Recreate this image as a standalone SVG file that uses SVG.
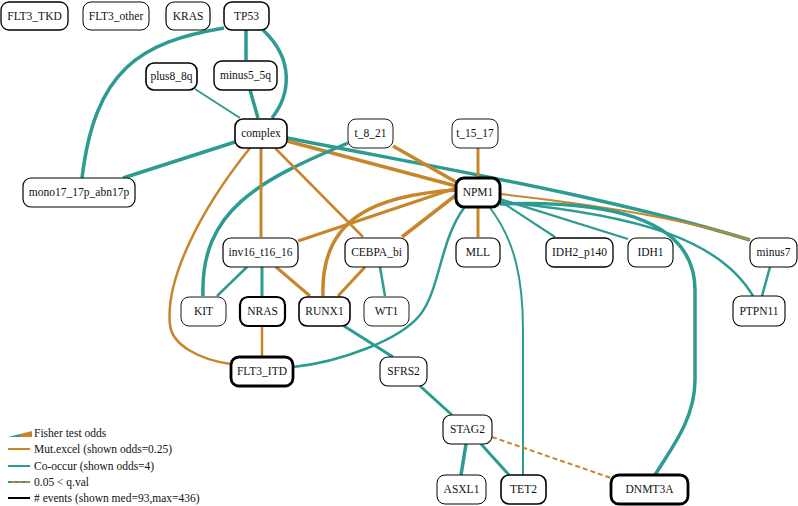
<svg xmlns="http://www.w3.org/2000/svg" width="798" height="506" viewBox="0 0 798 506" font-family="'Liberation Serif', 'DejaVu Serif', serif">
<style>
.n rect{fill:#fff;stroke:#000}
.n text{font-family:'Liberation Serif','DejaVu Serif',serif;font-size:11.5px;fill:#111;text-anchor:middle}
.t{fill:none;stroke:#2c9c92;stroke-linecap:butt}
.o{fill:none;stroke:#c8862c;stroke-linecap:butt}
.lg{font-family:'Liberation Serif','DejaVu Serif',serif;font-size:11.5px;fill:#111}
</style>
<defs>
<linearGradient id="wg" x1="0" x2="1" y1="0" y2="0">
<stop offset="0" stop-color="#2c9c92"/><stop offset="0.45" stop-color="#2c9c92"/><stop offset="0.55" stop-color="#c8862c"/><stop offset="1" stop-color="#c8862c"/>
</linearGradient>
</defs>
<rect width="798" height="506" fill="#fff"/>
<g id="connectors">
<path class="t" stroke-width="3.5" d="M224,28 C140,42 95,70 82,178"/>
<path class="t" stroke-width="3.5" d="M246,30 L246,60"/>
<path class="t" stroke-width="3.5" d="M263,30 C295,60 290,95 272,118"/>
<path class="t" stroke-width="2" d="M195,89 L240,118"/>
<path class="t" stroke-width="3.5" d="M250,90 L258,118"/>
<path class="t" stroke-width="3.5" d="M235,142 L123,178"/>
<path class="t" stroke-width="3.5" d="M287,138 C450,170 600,195 750,240"/>
<path class="o" stroke-width="2" d="M500,194 C600,205 690,220 750,240"/>
<path class="t" stroke-width="2.2" d="M500,201 L555,237"/>
<path class="t" stroke-width="2.2" d="M500,199 L628,239"/>
<path class="t" stroke-width="3.5" d="M500,204 C600,200 695,215 695,290 L695,380 C695,420 670,450 655,475"/>
<path class="t" stroke-width="2.5" d="M500,202 C640,215 720,240 753,296"/>
<path class="o" stroke-width="3" d="M478,208 L478,237"/>
<path class="o" stroke-width="3" d="M478,148 L478,177"/>
<path class="o" stroke-width="3.5" d="M393,146 L456,182"/>
<path class="o" stroke-width="3.5" d="M287,141 L456,186"/>
<path class="t" stroke-width="3.5" d="M348,143 C260,180 200,210 203,296"/>
<path class="o" stroke-width="3" d="M261,148 L261,237"/>
<path class="o" stroke-width="2.5" d="M250,148 C200,210 165,280 170,325 C172,345 200,360 231,364"/>
<path class="o" stroke-width="2.5" d="M275,148 L363,237"/>
<path class="o" stroke-width="3" d="M456,188 L298,241"/>
<path class="o" stroke-width="3.5" d="M456,195 L402,237"/>
<path class="o" stroke-width="3.5" d="M456,190 C380,195 320,215 323,296"/>
<path class="t" stroke-width="2.5" d="M247,267 L217,296"/>
<path class="t" stroke-width="3" d="M262,267 L262,296"/>
<path class="o" stroke-width="3" d="M276,267 L310,296"/>
<path class="o" stroke-width="3" d="M365,267 L338,296"/>
<path class="t" stroke-width="2.5" d="M380,267 L385,296"/>
<path class="o" stroke-width="2.5" d="M262,326 L262,356"/>
<path class="t" stroke-width="2.5" d="M464,208 C440,240 440,290 420,315 C400,340 340,362 293,367"/>
<path class="t" stroke-width="2" d="M490,208 C515,240 523,280 523,330 L523,475"/>
<path class="t" stroke-width="3" d="M344,326 L393,357"/>
<path class="t" stroke-width="3" d="M420,386 L452,415"/>
<path class="t" stroke-width="3.5" d="M466,444 L461,475"/>
<path class="t" stroke-width="3" d="M481,444 L509,475"/>
<path class="o" stroke-width="2" stroke-dasharray="5,3" d="M492,437 L614,479"/>
<path class="t" stroke-width="2.5" d="M770,267 L762,296"/>
</g>
<g id="FLT3_TKD" class="n"><rect x="1" y="2" width="67" height="28" rx="8" stroke-width="1.3"/><text x="34.5" y="20">FLT3_TKD</text></g>
<g id="FLT3_other" class="n"><rect x="83" y="2" width="66" height="28" rx="8" stroke-width="1"/><text x="116" y="20">FLT3_other</text></g>
<g id="KRAS" class="n"><rect x="166" y="2" width="44" height="28" rx="8" stroke-width="1.2"/><text x="188" y="20">KRAS</text></g>
<g id="TP53" class="n"><rect x="224" y="2" width="45" height="28" rx="8" stroke-width="1.5"/><text x="246.5" y="20">TP53</text></g>
<g id="plus8_8q" class="n"><rect x="146" y="63" width="51" height="27" rx="8" stroke-width="1.6"/><text x="171.5" y="80">plus8_8q</text></g>
<g id="minus5_5q" class="n"><rect x="214" y="61" width="63" height="29" rx="8" stroke-width="1.4"/><text x="245.5" y="79">minus5_5q</text></g>
<g id="complex" class="n"><rect x="235" y="119" width="52" height="29" rx="8" stroke-width="1.6"/><text x="261" y="137">complex</text></g>
<g id="t_8_21" class="n"><rect x="348" y="119" width="45" height="29" rx="8" stroke-width="0.9"/><text x="370.5" y="137">t_8_21</text></g>
<g id="t_15_17" class="n"><rect x="452" y="119" width="46" height="29" rx="8" stroke-width="0.9"/><text x="475" y="137">t_15_17</text></g>
<g id="mono17_17p_abn17p" class="n"><rect x="23" y="178" width="112" height="29" rx="8" stroke-width="1.2"/><text x="79" y="196">mono17_17p_abn17p</text></g>
<g id="NPM1" class="n"><rect x="456" y="178" width="44" height="29" rx="8" stroke-width="3"/><text x="478" y="196">NPM1</text></g>
<g id="inv16_t16_16" class="n"><rect x="223" y="238" width="75" height="29" rx="8" stroke-width="1.2"/><text x="260.5" y="256">inv16_t16_16</text></g>
<g id="CEBPA_bi" class="n"><rect x="345" y="238" width="63" height="29" rx="8" stroke-width="1.2"/><text x="376.5" y="256">CEBPA_bi</text></g>
<g id="MLL" class="n"><rect x="456" y="238" width="44" height="29" rx="8" stroke-width="1.2"/><text x="478" y="256">MLL</text></g>
<g id="IDH2_p140" class="n"><rect x="546" y="238" width="67" height="29" rx="8" stroke-width="1.3"/><text x="579.5" y="256">IDH2_p140</text></g>
<g id="IDH1" class="n"><rect x="628" y="238" width="45" height="29" rx="8" stroke-width="1.1"/><text x="650.5" y="256">IDH1</text></g>
<g id="minus7" class="n"><rect x="750" y="238" width="47" height="29" rx="8" stroke-width="1.1"/><text x="773.5" y="256">minus7</text></g>
<g id="PTPN11" class="n"><rect x="733" y="296" width="52" height="30" rx="8" stroke-width="1.1"/><text x="759" y="315">PTPN11</text></g>
<g id="KIT" class="n"><rect x="181" y="297" width="45" height="29" rx="8" stroke-width="0.9"/><text x="203.5" y="315">KIT</text></g>
<g id="NRAS" class="n"><rect x="240" y="297" width="45" height="29" rx="8" stroke-width="2.2"/><text x="262.5" y="315">NRAS</text></g>
<g id="RUNX1" class="n"><rect x="299" y="297" width="51" height="29" rx="8" stroke-width="1.6"/><text x="324.5" y="315">RUNX1</text></g>
<g id="WT1" class="n"><rect x="364" y="297" width="45" height="29" rx="8" stroke-width="0.9"/><text x="386.5" y="315">WT1</text></g>
<g id="FLT3_ITD" class="n"><rect x="231" y="357" width="62" height="29" rx="8" stroke-width="2.8"/><text x="262" y="375">FLT3_ITD</text></g>
<g id="SFRS2" class="n"><rect x="380" y="357" width="47" height="29" rx="8" stroke-width="1.1"/><text x="403.5" y="375">SFRS2</text></g>
<g id="STAG2" class="n"><rect x="443" y="415" width="49" height="29" rx="8" stroke-width="1.1"/><text x="467.5" y="433">STAG2</text></g>
<g id="ASXL1" class="n"><rect x="437" y="475" width="49" height="29" rx="8" stroke-width="1"/><text x="461.5" y="493">ASXL1</text></g>
<g id="TET2" class="n"><rect x="501" y="475" width="45" height="29" rx="8" stroke-width="1.6"/><text x="523.5" y="493">TET2</text></g>
<g id="DNMT3A" class="n"><rect x="611" y="475" width="77" height="29" rx="8" stroke-width="2.8"/><text x="649.5" y="493">DNMT3A</text></g>
<g id="legend">
<polygon points="8,437 32,431 32,437" fill="url(#wg)"/>
<text class="lg" x="34" y="437">Fisher test odds</text>
<line x1="8" y1="449" x2="30" y2="449" stroke="#c8862c" stroke-width="2"/>
<text class="lg" x="34" y="453">Mut.excel (shown odds=0.25)</text>
<line x1="8" y1="466" x2="30" y2="466" stroke="#2c9c92" stroke-width="2"/>
<text class="lg" x="34" y="470">Co-occur (shown odds=4)</text>
<line x1="8" y1="482" x2="30" y2="482" stroke="#2c9c92" stroke-width="2" stroke-dasharray="4,3"/>
<line x1="8" y1="482" x2="30" y2="482" stroke="#c8862c" stroke-width="2" stroke-dasharray="0,3.5,3.5,0"/>
<text class="lg" x="34" y="486">0.05 &lt; q.val</text>
<line x1="8" y1="498" x2="30" y2="498" stroke="#000" stroke-width="2"/>
<text class="lg" x="34" y="502"># events (shown med=93,max=436)</text>
</g>
</svg>
